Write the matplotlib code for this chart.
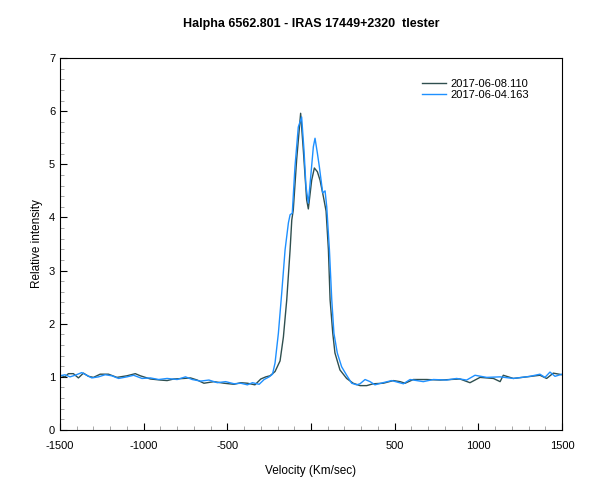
import numpy as np
import matplotlib
matplotlib.use("Agg")
import matplotlib.pyplot as plt
from matplotlib.ticker import MultipleLocator

plt.rcParams['font.family'] = ['Liberation Sans', 'DejaVu Sans']

# 2017-06-08.110 (dark)
v_a = [-1500, -1470, -1450, -1420, -1390, -1360, -1330, -1300, -1260, -1210,
       -1160, -1100, -1050, -1020, -960, -900, -860, -820, -760, -720,
       -680, -640, -580, -520, -460, -420, -380, -335, -300, -270,
       -245, -215, -185, -165, -145, -125, -115, -106, -86, -62,
       -46, -26, -16, 4, 20, 38, 54, 74, 90, 104,
       114, 130, 143, 173, 213, 252, 293, 333, 372, 432,
       492, 532, 562, 612, 691, 771, 831, 890, 950, 1010,
       1090, 1130, 1149, 1209, 1289, 1368, 1408, 1448, 1500]
i_a = [1.03, 1.00, 1.06, 1.06, 0.98, 1.07, 1.01, 0.99, 1.05, 1.05,
       0.99, 1.02, 1.06, 1.02, 0.96, 0.94, 0.93, 0.96, 0.97, 0.98,
       0.94, 0.88, 0.91, 0.88, 0.86, 0.89, 0.88, 0.85, 0.96, 1.00,
       1.02, 1.10, 1.30, 1.75, 2.45, 3.39, 3.95, 4.14, 5.08, 5.96,
       5.27, 4.33, 4.16, 4.70, 4.93, 4.86, 4.70, 4.39, 4.12, 3.39,
       2.45, 1.82, 1.45, 1.13, 0.97, 0.88, 0.835, 0.835, 0.87, 0.88,
       0.93, 0.91, 0.88, 0.95, 0.95, 0.94, 0.95, 0.96, 0.89, 0.99,
       0.97, 0.91, 1.03, 0.97, 1.00, 1.03, 0.97, 1.07, 1.04]

# 2017-06-04.163 (blue)
v_b = [-1500, -1470, -1440, -1410, -1370, -1340, -1310, -1270, -1230, -1190,
       -1150, -1100, -1060, -1010, -960, -910, -860, -800, -750, -710,
       -660, -610, -560, -510, -460, -420, -380, -350, -310, -280,
       -250, -230, -215, -195, -175, -155, -135, -125, -112, -96,
       -76, -56, -42, -30, -16, -2, 14, 24, 38, 50,
       70, 84, 94, 110, 124, 137, 157, 183, 213, 243,
       273, 293, 323, 353, 382, 430, 482, 552, 592, 671,
       731, 811, 870, 930, 980, 1050, 1130, 1209, 1309, 1368,
       1398, 1428, 1458, 1500]
i_b = [1.02, 1.04, 1.00, 1.03, 1.08, 1.03, 0.98, 1.00, 1.04, 1.02,
       0.97, 1.00, 1.03, 0.97, 0.98, 0.95, 0.97, 0.95, 1.00, 0.95,
       0.92, 0.94, 0.89, 0.91, 0.87, 0.88, 0.85, 0.89, 0.86, 0.95,
       1.00, 1.05, 1.26, 1.82, 2.58, 3.39, 3.90, 4.05, 4.08, 4.95,
       5.70, 5.89, 5.27, 4.58, 4.27, 4.76, 5.33, 5.49, 5.21, 4.95,
       4.46, 4.50, 4.20, 3.39, 2.45, 1.82, 1.45, 1.19, 1.03, 0.88,
       0.85, 0.87, 0.95, 0.91, 0.85, 0.89, 0.93, 0.87, 0.95, 0.91,
       0.95, 0.94, 0.97, 0.94, 1.03, 0.99, 1.00, 0.97, 1.01, 1.05,
       0.99, 1.09, 1.01, 1.05]

fig = plt.figure(figsize=(6, 5), dpi=100)
ax = fig.add_axes([0.1, 0.14, 0.8367, 0.744])

ax.plot(v_a, i_a, color='#2f4f4f', lw=1.0, label='2017-06-08.110')
ax.plot(v_b, i_b, color='#1e90ff', lw=1.0, label='2017-06-04.163')

ax.set_xlim(-1500, 1500)
ax.set_ylim(0, 7)
ax.xaxis.set_major_locator(MultipleLocator(500))
ax.xaxis.set_minor_locator(MultipleLocator(100))
ax.yaxis.set_major_locator(MultipleLocator(1))
ax.yaxis.set_minor_locator(MultipleLocator(0.2))
ax.tick_params(which='both', direction='in', labelsize=8, top=False, right=False)
ax.tick_params(which='major', length=5)
ax.tick_params(which='minor', length=3, color='#999999')
ax.set_xticks([-1500, -1000, -500, 0, 500, 1000, 1500])
ax.set_xticklabels(['-1500', '-1000', '-500', '', '500', '1000', '1500'])
ax.tick_params(axis='x', pad=8)

ax.set_title('Halpha 6562.801 - IRAS 17449+2320  tlester', fontsize=9,
             fontweight='bold', pad=22)
ax.set_xlabel('Velocity (Km/sec)', fontsize=8.5, labelpad=10)
ax.set_ylabel('Relative intensity', fontsize=8.5, labelpad=4)

ax.legend(loc='upper right', frameon=False, fontsize=8, handlelength=2.2,
          handletextpad=0.4, labelspacing=0.1, bbox_to_anchor=(0.955, 0.97))

fig.savefig('out.png', dpi=100)
